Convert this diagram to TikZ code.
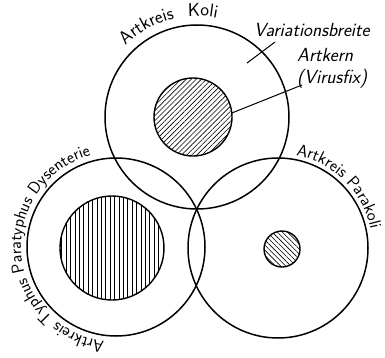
\documentclass[tikz,border=0pt]{standalone}
\usepackage{tikz}
\usetikzlibrary{patterns.meta}
\usetikzlibrary{decorations.text}
\newcommand{\krfont}{\sffamily\fontsize{17}{20}\selectfont}
\newcommand{\krfontgr}{\sffamily\fontsize{18.5}{20}\selectfont}

\begin{document}
\begin{tikzpicture}[x=1pt,y=1pt,
    kreis/.style={circle, draw, line width=1.5pt, inner sep=0pt},
    kern/.style={kreis, line width=1.4pt},
    lbl/.style={font=\sffamily\slshape\fontsize{19}{22}\selectfont, inner sep=0pt}]
  \useasboundingbox (0,0) rectangle (385,357);
  % Artkreise
  \node[kreis, minimum size=184] (koli) at (197,240) {};
  \node[kreis, minimum size=178] (typhus) at (116,110) {};
  \node[kreis, minimum size=180] (parakoli) at (278,109) {};
  % Artkerne
  \node[kern, minimum size=78, pattern={Lines[angle=45,distance=3.6pt,line width=0.6pt]}] (kolikern) at (193,240) {};
  \node[kern, minimum size=104, pattern={Lines[angle=90,distance=4.4pt,line width=0.6pt]}] (typhuskern) at (112,109) {};
  \node[kern, minimum size=36, pattern={Lines[angle=-45,distance=3.6pt,line width=0.6pt]}] (parakolikern) at (282,108) {};
  % Beschriftung
  \node[lbl, anchor=base west] (var) at (254,320) {Variationsbreite};
  \node[lbl, anchor=base west, align=left] (artkern) at (297,274) {Artkern\\(Virusfix)};
  \coordinate (varin) at (247,294);
  \coordinate (varout) at (275,315);
  \coordinate (kernout) at (302,272);
  \draw[line width=1pt] (varin) -- (varout);
  \draw[line width=1pt] (kolikern.6) -- (kernout);
  % Namen am Kreisrand
  \path[decorate, decoration={text along path, text={|\krfontgr|Artkreis}}]
    (koli.center) ++(135:101) arc[start angle=135, end angle=95, radius=101];
  \path[decorate, decoration={text along path, text={|\krfontgr|Koli}}]
    (koli.center) ++(95:101) arc[start angle=95, end angle=55, radius=101];
  \path[decorate, decoration={text along path, text={|\krfont|Artkreis Parakoli}}]
    (parakoli.center) ++(79:94.5) arc[start angle=79, end angle=-20, radius=94.5];
  \path[decorate, decoration={text along path, text={|\krfont|Artkreis Typhus Paratyphus Dysenterie}}]
    (typhus.center) ++(263:95) arc[start angle=263, end angle=85, radius=95];
\end{tikzpicture}
\end{document}
